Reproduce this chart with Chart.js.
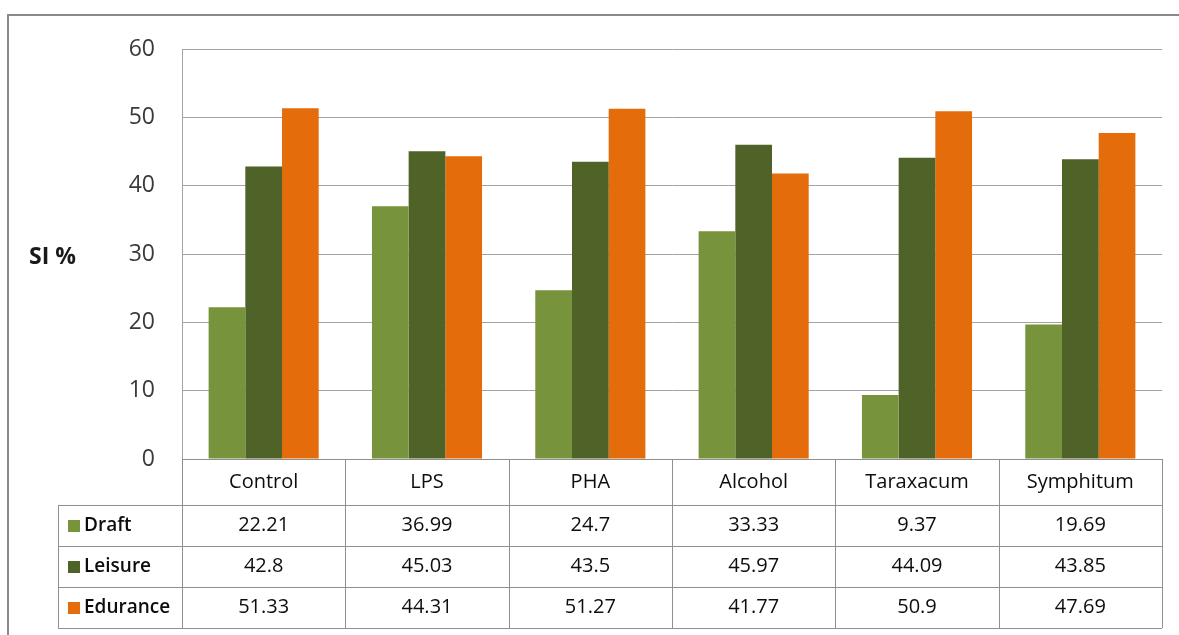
<!DOCTYPE html>
<html>
<head>
<meta charset="utf-8">
<script src="https://cdn.jsdelivr.net/npm/chart.js@4.4.1/dist/chart.umd.min.js"></script>
<style>
  html, body { margin: 0; padding: 0; background: #fff; }
  #wrap { position: relative; width: 1179px; height: 635px; }
  #frame {
    position: absolute; left: 7px; top: 14px; right: -10px; bottom: -10px;
    border-left: 2px solid #8a8a8a; border-top: 2px solid #8a8a8a;
  }
  canvas { position: absolute; left: 0; top: 0; }
</style>
</head>
<body>
<div id="wrap">
  <div id="frame"></div>
  <canvas id="chart" width="1179" height="635"></canvas>
</div>
<script>
const CATEGORIES = ["Control", "LPS", "PHA", "Alcohol", "Taraxacum", "Symphitum"];
const DRAFT = [22.21, 36.99, 24.7, 33.33, 9.37, 19.69];
const LEISURE = [42.8, 45.03, 43.5, 45.97, 44.09, 43.85];
const EDURANCE = [51.33, 44.31, 51.27, 41.77, 50.9, 47.69];
const Y_TICKS = [0, 10, 20, 30, 40, 50, 60];

const SERIES = [
  { label: "Draft", data: DRAFT, color: "#77933C" },
  { label: "Leisure", data: LEISURE, color: "#4F6228" },
  { label: "Edurance", data: EDURANCE, color: "#E46C0A" },
];

const FONT = "'Open Sans', sans-serif";
const LINE = "#8f8f8f";
const HEADER_H = 46;
const ROW_H = 41;
const TABLE_LEFT = 58;

// draws the data table below the plot, plus the "SI %" axis title
const tablePlugin = {
  id: "dataTable",
  afterDraw(chart) {
    const ctx = chart.ctx;
    const area = chart.chartArea;
    const xs = chart.scales.x;
    const n = CATEGORIES.length;
    const colW = (area.right - area.left) / n;
    const top = Math.round(area.bottom);
    const bottom = top + HEADER_H + ROW_H * SERIES.length;

    ctx.save();
    ctx.strokeStyle = LINE;
    ctx.lineWidth = 1;
    ctx.beginPath();
    // vertical lines
    for (let i = 0; i <= n; i++) {
      const x = Math.round(area.left + i * colW) + 0.5;
      ctx.moveTo(x, top);
      ctx.lineTo(x, bottom);
    }
    ctx.moveTo(TABLE_LEFT + 0.5, top + HEADER_H);
    ctx.lineTo(TABLE_LEFT + 0.5, bottom);
    // horizontal lines
    ctx.moveTo(area.left, top + 0.5);
    ctx.lineTo(area.right, top + 0.5);
    for (let r = 0; r <= SERIES.length; r++) {
      const y = top + HEADER_H + r * ROW_H + 0.5;
      ctx.moveTo(TABLE_LEFT, y);
      ctx.lineTo(area.right, y);
    }
    ctx.stroke();

    ctx.textAlign = "center";
    ctx.textBaseline = "middle";
    ctx.fillStyle = "#0d0d0d";
    ctx.font = "20px " + FONT;
    CATEGORIES.forEach((c, i) => {
      ctx.fillText(c, xs.getPixelForValue(i), top + HEADER_H / 2);
    });

    SERIES.forEach((s, r) => {
      const cy = top + HEADER_H + r * ROW_H + ROW_H / 2;
      ctx.font = "20px " + FONT;
      ctx.textAlign = "center";
      ctx.fillStyle = "#0d0d0d";
      s.data.forEach((v, i) => {
        ctx.fillText(String(v), xs.getPixelForValue(i), cy);
      });
      ctx.fillStyle = s.color;
      ctx.fillRect(68, Math.round(cy - 6), 12, 12);
      ctx.fillStyle = "#0d0d0d";
      ctx.textAlign = "left";
      ctx.font = "600 19px " + FONT;
      ctx.fillText(s.label, 84, cy);
    });

    ctx.font = "bold 23px " + FONT;
    ctx.textAlign = "left";
    ctx.fillStyle = "#1a1a1a";
    ctx.fillText("SI %", 29, 257);
    ctx.restore();
  },
};

new Chart(document.getElementById("chart"), {
  type: "bar",
  data: {
    labels: CATEGORIES,
    datasets: SERIES.map((s) => ({
      label: s.label,
      data: s.data,
      backgroundColor: s.color,
      borderWidth: 0,
      barPercentage: 1,
      categoryPercentage: 0.674,
    })),
  },
  options: {
    responsive: false,
    animation: false,
    layout: { padding: { top: 49, right: 17, left: 0, bottom: 0 } },
    plugins: {
      legend: { display: false },
      tooltip: { enabled: false },
    },
    scales: {
      x: {
        grid: { display: false },
        border: { display: false },
        ticks: { display: false },
        afterFit: (s) => { s.height = 176; },
      },
      y: {
        min: 0,
        max: 60,
        afterBuildTicks: (s) => { s.ticks = Y_TICKS.map((v) => ({ value: v })); },
        grid: { color: "#a3a3a3", drawTicks: false },
        border: { color: "#a3a3a3" },
        ticks: {
          padding: 27,
          color: "#3a3a3a",
          font: { family: FONT, size: 23 },
        },
        afterFit: (s) => { s.width = 182; },
      },
    },
  },
  plugins: [tablePlugin],
});
</script>
</body>
</html>
